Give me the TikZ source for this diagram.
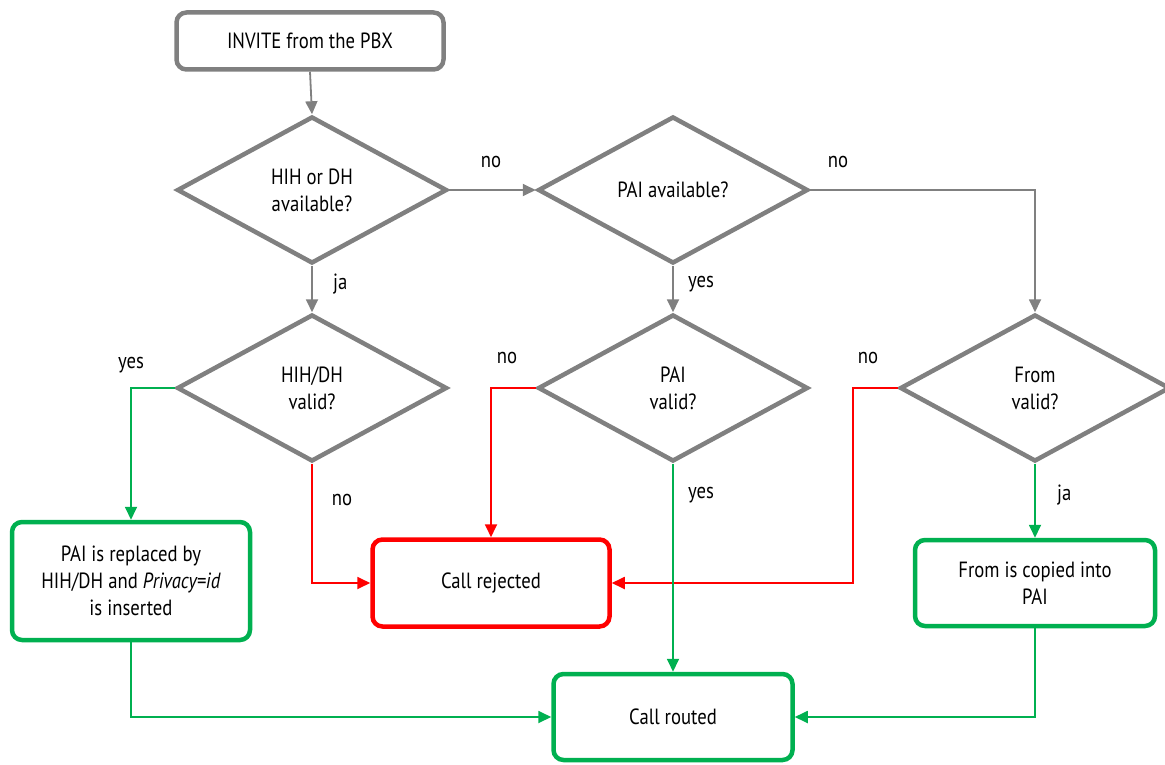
\documentclass[tikz,border=0pt]{standalone}
\usepackage{fontspec}
\setmainfont{PT Sans}[FakeStretch=0.85]
\usetikzlibrary{shapes.geometric,arrows.meta}
\definecolor{fgray}{HTML}{808080}
\definecolor{fgreen}{HTML}{00B050}
\definecolor{fred}{HTML}{FF0000}
\tikzset{
  box/.style={draw, line width=4.5pt, rounded corners=10pt, align=center,
    font=\fontsize{22}{27}\selectfont, inner sep=0pt},
  decision/.style={diamond, draw=fgray, line width=4.5pt, align=center,
    font=\fontsize{22}{27}\selectfont, inner sep=0pt,
    minimum width=270pt, minimum height=147pt},
  conn/.style={line width=1.8pt, -{Triangle[length=13pt,width=12pt]}},
  lbl/.style={font=\fontsize{22}{27}\selectfont, inner sep=0pt},
}
\begin{document}
\begin{tikzpicture}[x=1pt,y=-1pt]
\useasboundingbox (0,0) rectangle (1165,765);

% process boxes
\node[box, draw=fgray, minimum width=267pt, minimum height=57pt] (invite) at (310,41) {INVITE from the PBX};
\node[box, draw=fgreen, minimum width=238pt, minimum height=118pt] (replace) at (131,581)
  {PAI is replaced by\\HIH/DH and \textit{Privacy=id}\\is inserted};
\node[box, draw=fred, minimum width=237pt, minimum height=87pt] (rejected) at (491,583) {Call rejected};
\node[box, draw=fgreen, minimum width=240pt, minimum height=86pt] (copied) at (1035,583)
  {From is copied into\\PAI};
\node[box, draw=fgreen, minimum width=239pt, minimum height=86pt] (routed) at (673,717) {Call routed};

% decisions
\node[decision] (hih) at (312,190) {HIH or DH\\available?};
\node[decision] (pai) at (673,190) {PAI available?};
\node[decision] (hihv) at (312,388) {HIH/DH\\valid?};
\node[decision] (paiv) at (673,388) {PAI\\valid?};
\node[decision] (fromv) at (1035,388) {From\\valid?};

% gray flow
\draw[conn, fgray] (invite.south) -- (hih.north);
\draw[conn, fgray] (hih.east) -- (pai.west);
\draw[conn, fgray] (pai.east) -| (fromv.north);
\draw[conn, fgray] (hih.south) -- (hihv.north);
\draw[conn, fgray] (pai.south) -- (paiv.north);

% rejections
\draw[conn, fred] (hihv.south) |- (rejected.west);
\draw[conn, fred] (paiv.west) -| (rejected.north);
\coordinate (rjturn) at (853,388);
\draw[conn, fred] (fromv.west) -- (rjturn) |- (rejected.east);

% accepted paths
\draw[conn, fgreen] (hihv.west) -| (replace.north);
\draw[conn, fgreen] (paiv.south) -- (routed.north);
\draw[conn, fgreen] (fromv.south) -- (copied.north);
\draw[conn, fgreen] (replace.south) |- (routed.west);
\draw[conn, fgreen] (copied.south) |- (routed.east);

% branch labels
\node[lbl] (l1) at (491,162) {no};
\node[lbl] (l2) at (838,162) {no};
\node[lbl, anchor=west] (l3) at (333,284) {ja};
\node[lbl, anchor=west] (l4) at (688,284) {yes};
\node[lbl] (l5) at (131,365) {yes};
\node[lbl] (l6) at (342,500) {no};
\node[lbl] (l7) at (507,358) {no};
\node[lbl] (l8) at (868,358) {no};
\node[lbl, anchor=west] (l9) at (688,495) {yes};
\node[lbl, anchor=west] (l10) at (1057,495) {ja};
\end{tikzpicture}
\end{document}
